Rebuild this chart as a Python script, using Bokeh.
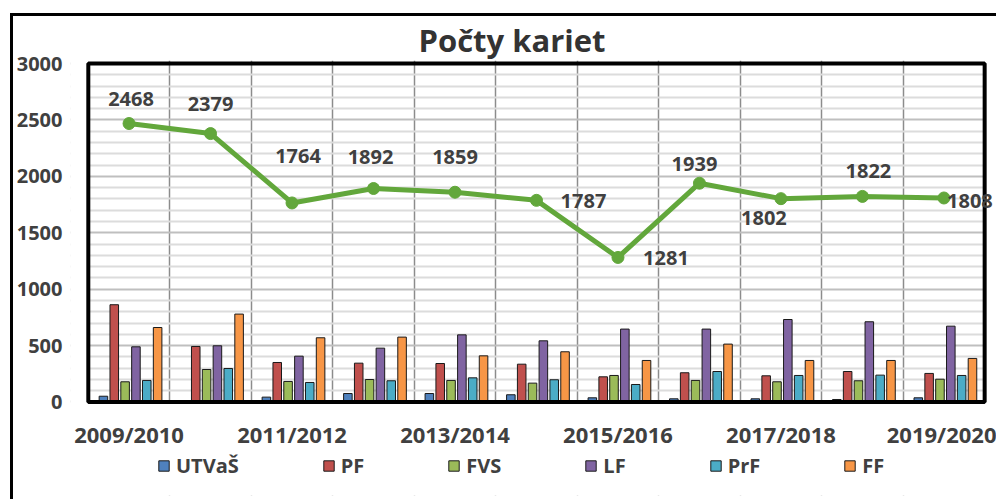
from bokeh.plotting import figure
from bokeh.models import (ColumnDataSource, LabelSet, Legend, LegendItem, BoxAnnotation,
                          Range1d, FixedTicker)
from bokeh.transform import dodge
from bokeh.core.properties import value
from bokeh.embed import file_html
from bokeh.resources import INLINE

# ---- data ----
years = ["2009/2010", "2010/2011", "2011/2012", "2012/2013", "2013/2014", "2014/2015",
         "2015/2016", "2016/2017", "2017/2018", "2018/2019", "2019/2020"]
series_names = ["UTVaŠ", "PF", "FVS", "LF", "PrF", "FF"]
utvas = [51, 0, 43, 75, 75, 64, 37, 28, 28, 22, 37]
pf = [862, 492, 350, 344, 341, 335, 223, 259, 232, 270, 253]
fvs = [179, 288, 182, 199, 191, 167, 235, 191, 179, 188, 202]
lf = [489, 498, 406, 477, 595, 542, 646, 646, 731, 711, 672]
prf = [191, 297, 173, 188, 214, 197, 155, 270, 235, 238, 235]
ff = [660, 779, 569, 575, 409, 445, 368, 513, 368, 368, 386]
totals = [2468, 2379, 1764, 1892, 1859, 1787, 1281, 1939, 1802, 1822, 1808]
y_max = 3000
y_step = 500
y_minor = 100

# ---- styles ----
colors = ["#4F81BD", "#C0504D", "#9BBB59", "#8064A2", "#4BACC6", "#F79646"]
green = "#62A73B"
label_dx = [2, 0, 6, -3, 0, 47, 48, -5, -17, 6, 26]
label_dy = [25, 30, 47, 32, 35, -1, -1, 19, -19, 25, -3]
text_col = "#404040"
FONT = "Open Sans"

x = list(range(len(years)))
cols = [utvas, pf, fvs, lf, prf, ff]
keys = ["s0", "s1", "s2", "s3", "s4", "s5"]
data = dict(x=x, total=totals, total_text=[str(t) for t in totals], dx=label_dx, dy=label_dy)
for k, c in zip(keys, cols):
    data[k] = c
source = ColumnDataSource(data)

n = len(years)
# pixel geometry of the drawing area (frame) -> ranges padded so the value box sits inside it
px_per_cat = 82.36
px_per_unit = 0.1128
x_start = -0.5 - 18 / px_per_cat
x_end = n - 0.5 + 15 / px_per_cat
y_end = y_max + 3 / px_per_unit
y_start = -93.5 / px_per_unit

p = figure(width=986, height=486, x_range=Range1d(x_start, x_end),
           y_range=Range1d(y_start, y_end), output_backend="svg", toolbar_location=None,
           min_border_left=53, min_border_right=0, min_border_top=44, min_border_bottom=7)
p.styles = {"border-left": "3px solid black", "border-top": "3px solid black",
            "margin-top": "13px", "margin-left": "10px"}

p.outline_line_color = None
p.background_fill_color = "white"
p.border_fill_color = "white"

# title
p.title.text = "Počty kariet"
p.title.align = "left"
p.title.offset = 348
p.title.standoff = 0
p.title.text_font = FONT
p.title.text_font_style = "bold"
p.title.text_font_size = "31px"
p.title.text_color = "#333333"

# ticks / grids
y_ticker = FixedTicker(ticks=list(range(0, y_max + 1, y_step)),
                       minor_ticks=[v for v in range(y_minor, y_max, y_minor) if v % y_step])
p.yaxis.ticker = y_ticker
p.ygrid.ticker = y_ticker
p.ygrid.grid_line_color = "#BFBFBF"
p.ygrid.grid_line_width = 2
p.ygrid.minor_grid_line_color = "#DCDCDC"
p.ygrid.minor_grid_line_width = 2
p.xgrid.ticker = FixedTicker(ticks=[i + 0.5 for i in range(n - 1)])
p.xgrid.grid_line_color = "#8C8C8C"
p.xgrid.grid_line_width = 1.5

p.xaxis.ticker = FixedTicker(ticks=x[::2])
p.xaxis.major_label_overrides = {i: years[i] for i in x[::2]}
p.xaxis.fixed_location = 0
for ax in (p.xaxis[0], p.yaxis[0]):
    ax.axis_line_color = None
    ax.major_tick_line_color = None
    ax.minor_tick_line_color = None
    ax.major_tick_out = 0
    ax.major_tick_in = 0
    ax.major_label_text_font = FONT
    ax.major_label_text_font_style = "bold"
    ax.major_label_text_font_size = "20px"
    ax.major_label_text_color = text_col
p.xaxis.major_label_text_font_size = "22px"
p.yaxis.major_label_standoff = 4
p.xaxis.major_label_standoff = 17

# white areas outside the value box (hide grid there)
for kw in (dict(top=0), dict(left=n - 0.5), dict(right=-0.5)):
    p.add_layout(BoxAnnotation(fill_color="white", fill_alpha=1, line_color=None,
                               level="underlay", **kw))

# bars
pitch = 0.133
renderers = []
for i, (k, c) in enumerate(zip(keys, colors)):
    off = (i - 2.5) * pitch + 0.018
    r = p.vbar(x=dodge("x", off), top=k, width=0.105, bottom=0, source=source,
               fill_color=c, line_color="#1a1a1a", line_width=1)
    renderers.append(r)

# black frame of the value box (one quad spanning all categories and the full value scale)
frame_src = ColumnDataSource(dict(left=[x[0] - 0.5], right=[x[-1] + 0.5],
                                  bottom=[0], top=[y_max]))
p.quad(left="left", right="right", bottom="bottom", top="top", source=frame_src,
       fill_color=None, fill_alpha=0, line_color="#000000", line_alpha=1.0, line_width=4)

# total line
p.line("x", "total", source=source, line_width=5, color=green)
p.scatter("x", "total", source=source, size=12, color=green)

labels = LabelSet(x="x", y="total", text="total_text", x_offset="dx", y_offset="dy",
                  source=source, text_align="center", text_baseline="middle",
                  text_font=value(FONT), text_font_style="bold", text_font_size="20px",
                  text_color=text_col)
p.add_layout(labels)

# legend
legend = Legend(items=[LegendItem(label=s, renderers=[r]) for s, r in zip(series_names, renderers)],
                orientation="horizontal", location=(87, 16), spacing=83,
                glyph_width=13, glyph_height=13, label_standoff=6, padding=0, margin=0,
                border_line_color=None, background_fill_alpha=0,
                label_text_font=FONT, label_text_font_style="bold",
                label_text_font_size="20px", label_text_color=text_col)
p.add_layout(legend, "center")

open("out.html", "w").write(file_html(p, INLINE))
